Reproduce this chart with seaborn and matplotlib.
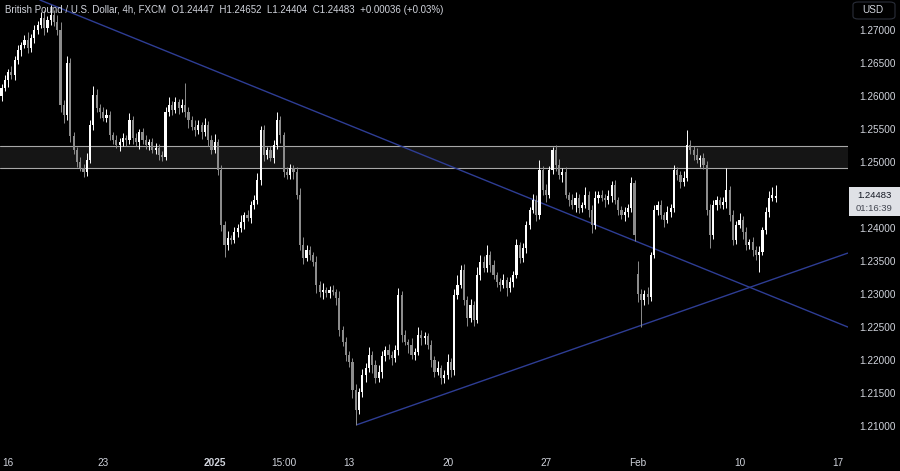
import numpy as np
import pandas as pd
import matplotlib

matplotlib.use('Agg')

import matplotlib.pyplot as plt
import seaborn as sns
from matplotlib.patches import FancyBboxPatch

sns.set_theme(style="dark")
plt.rcParams['font.family'] = ['Liberation Sans', 'DejaVu Sans']

# GBP/USD 4h candles, prices in units of 0.0001
opens = [
    12600, 12612, 12624, 12636, 12632, 12655, 12670, 12677, 12685, 12673,
    12688, 12700, 12708, 12718, 12703, 12715, 12723, 12712, 12700, 12586,
    12571, 12650, 12540, 12518, 12500, 12491, 12485, 12503, 12556, 12602,
    12582, 12576, 12567, 12571, 12541, 12533, 12526, 12530, 12536, 12533,
    12564, 12536, 12530, 12545, 12533, 12526, 12530, 12518, 12521, 12511,
    12508, 12576, 12586, 12579, 12591, 12582, 12586, 12576, 12564, 12553,
    12548, 12556, 12545, 12556, 12533, 12518, 12530, 12488, 12405, 12374,
    12385, 12382, 12394, 12400, 12409, 12420, 12415, 12435, 12442, 12473,
    12548, 12511, 12518, 12506, 12526, 12564, 12541, 12485, 12480, 12491,
    12485, 12450, 12374, 12355, 12367, 12359, 12349, 12314, 12303, 12306,
    12302, 12306, 12303, 12294, 12245, 12227, 12208, 12197, 12155, 12124,
    12152, 12177, 12188, 12208, 12192, 12173, 12182, 12206, 12215, 12208,
    12203, 12215, 12299, 12238, 12227, 12223, 12208, 12212, 12238, 12233,
    12236, 12223, 12200, 12182, 12188, 12173, 12177, 12197, 12185, 12299,
    12314, 12336, 12291, 12264, 12284, 12261, 12329, 12349, 12339, 12359,
    12344, 12329, 12318, 12314, 12321, 12309, 12318, 12329, 12374, 12355,
    12370, 12405, 12427, 12442, 12420, 12488, 12458, 12450, 12488, 12518,
    12495, 12480, 12485, 12450, 12442, 12435, 12446, 12430, 12435, 12450,
    12427, 12405, 12446, 12450, 12446, 12442, 12448, 12465, 12442, 12427,
    12420, 12424, 12430, 12468, 12330, 12300, 12291, 12300, 12295, 12359,
    12427, 12435, 12420, 12412, 12424, 12430, 12488, 12480, 12470, 12476,
    12526, 12518, 12511, 12503, 12506, 12495, 12427, 12389, 12435, 12442,
    12435, 12439, 12458, 12420, 12382, 12405, 12412, 12394, 12374, 12379,
    12367, 12359, 12364, 12397, 12424, 12446, 12445,
]
closes = [
    12612, 12624, 12636, 12632, 12655, 12670, 12677, 12685, 12673, 12688,
    12700, 12708, 12718, 12703, 12715, 12723, 12712, 12700, 12586, 12571,
    12650, 12540, 12518, 12500, 12491, 12485, 12503, 12556, 12602, 12582,
    12576, 12567, 12571, 12541, 12533, 12526, 12530, 12536, 12533, 12564,
    12536, 12530, 12545, 12533, 12526, 12530, 12518, 12521, 12511, 12508,
    12576, 12586, 12579, 12591, 12582, 12586, 12576, 12564, 12553, 12548,
    12556, 12545, 12556, 12533, 12518, 12530, 12488, 12405, 12374, 12385,
    12382, 12394, 12400, 12409, 12420, 12415, 12435, 12442, 12473, 12548,
    12511, 12518, 12506, 12526, 12564, 12541, 12485, 12480, 12491, 12485,
    12450, 12374, 12355, 12367, 12359, 12349, 12314, 12303, 12306, 12302,
    12306, 12303, 12294, 12245, 12227, 12208, 12197, 12155, 12124, 12152,
    12177, 12188, 12208, 12192, 12173, 12182, 12206, 12215, 12208, 12203,
    12215, 12299, 12238, 12227, 12223, 12208, 12212, 12238, 12233, 12236,
    12223, 12200, 12182, 12188, 12173, 12177, 12197, 12185, 12299, 12314,
    12336, 12291, 12264, 12284, 12261, 12329, 12349, 12339, 12359, 12344,
    12329, 12318, 12314, 12321, 12309, 12318, 12329, 12374, 12355, 12370,
    12405, 12427, 12442, 12420, 12488, 12458, 12450, 12488, 12518, 12495,
    12480, 12485, 12450, 12442, 12435, 12446, 12430, 12435, 12450, 12427,
    12405, 12446, 12450, 12446, 12442, 12448, 12465, 12442, 12427, 12420,
    12424, 12430, 12468, 12389, 12300, 12291, 12300, 12295, 12359, 12427,
    12435, 12420, 12412, 12424, 12430, 12488, 12480, 12470, 12476, 12526,
    12518, 12511, 12503, 12506, 12495, 12427, 12389, 12435, 12442, 12435,
    12439, 12458, 12420, 12382, 12405, 12412, 12394, 12374, 12379, 12367,
    12359, 12364, 12397, 12424, 12446, 12450, 12448,
]
# wick lengths above / below the body, same units
wick_up = [
    6, 8, 5, 10, 6, 8, 5, 8, 12, 6,
    8, 6, 10, 12, 6, 15, 8, 10, 12, 8,
    10, 8, 6, 5, 8, 6, 10, 8, 13, 8,
    6, 8, 10, 6, 5, 8, 6, 8, 5, 10,
    6, 8, 5, 6, 8, 5, 6, 8, 6, 5,
    8, 12, 6, 8, 5, 10, 33, 8, 6, 10,
    8, 5, 10, 6, 8, 12, 5, 8, 6, 10,
    5, 8, 6, 10, 5, 8, 6, 8, 10, 6,
    8, 5, 6, 8, 12, 6, 5, 8, 6, 5,
    8, 10, 12, 8, 6, 5, 8, 6, 10, 5,
    6, 8, 5, 10, 6, 8, 5, 6, 8, 6,
    10, 8, 12, 6, 8, 10, 8, 6, 10, 5,
    8, 10, 6, 8, 5, 10, 6, 12, 8, 6,
    5, 8, 6, 10, 5, 8, 12, 6, 8, 15,
    8, 10, 6, 8, 5, 12, 10, 8, 15, 6,
    8, 5, 6, 10, 5, 8, 6, 10, 5, 8,
    6, 5, 10, 8, 15, 6, 8, 6, 5, 8,
    10, 6, 8, 5, 10, 8, 6, 5, 12, 6,
    8, 10, 6, 8, 5, 10, 6, 8, 5, 6,
    8, 6, 10, 5, 20, 8, 6, 10, 5, 8,
    6, 8, 5, 10, 6, 8, 5, 6, 10, 22,
    8, 6, 10, 5, 8, 6, 10, 8, 6, 5,
    8, 33, 6, 8, 5, 10, 6, 8, 5, 8,
    6, 8, 5, 8, 10, 12, 17,
]
wick_dn = [
    8, 5, 10, 6, 8, 6, 10, 5, 8, 6,
    8, 6, 5, 10, 6, 8, 6, 8, 10, 12,
    8, 10, 6, 8, 5, 8, 6, 5, 8, 6,
    10, 5, 6, 8, 6, 5, 10, 6, 8, 5,
    8, 6, 10, 5, 6, 8, 5, 6, 8, 6,
    5, 6, 8, 5, 10, 6, 8, 12, 5, 8,
    6, 10, 5, 8, 6, 5, 8, 10, 18, 8,
    6, 5, 8, 6, 10, 5, 8, 6, 5, 8,
    10, 6, 5, 8, 6, 12, 8, 6, 5, 10,
    6, 8, 10, 5, 8, 6, 12, 8, 10, 6,
    8, 5, 10, 8, 6, 10, 8, 12, 22, 6,
    8, 10, 6, 12, 8, 6, 10, 8, 6, 10,
    6, 8, 10, 5, 12, 6, 8, 5, 10, 8,
    6, 10, 8, 5, 10, 8, 6, 10, 8, 6,
    5, 8, 12, 6, 10, 5, 8, 6, 5, 10,
    6, 8, 10, 5, 12, 6, 8, 5, 8, 6,
    8, 6, 5, 10, 6, 8, 10, 5, 6, 8,
    6, 10, 5, 8, 6, 10, 8, 6, 5, 10,
    12, 6, 8, 5, 10, 6, 8, 5, 8, 6,
    10, 8, 6, 8, 12, 41, 8, 10, 6, 5,
    8, 6, 10, 5, 8, 6, 8, 10, 6, 5,
    6, 8, 5, 10, 6, 8, 20, 6, 8, 5,
    6, 8, 10, 8, 6, 5, 10, 8, 6, 10,
    8, 26, 5, 6, 8, 5, 5,
]

date_ticks = [2, 31, 65, 86, 106, 136, 166, 194, 225, 255]
date_labels = ["16", "23", "2025", "15:00", "13", "20", "27", "Feb", "10", "17"]
# 1.24500 sits under the last-price tag, so it is not listed
price_ticks = [1.21, 1.215, 1.22, 1.225, 1.23, 1.235, 1.24, 1.25, 1.255, 1.26, 1.265, 1.27]

zone_lo, zone_hi = 1.2491, 1.2524
# trendlines: (candle index, price) anchors
trend_down = ([11.7, 258.0], [1.27455, 1.2250])
trend_up = ([108.4, 258.0], [1.21020, 1.23620])

last_price = "1.24483"
countdown = "01:16:39"
title = ("British Pound / U.S. Dollar, 4h, FXCM  O1.24447  H1.24652  "
         "L1.24404  C1.24483  +0.00036 (+0.03%)")

BG = "#000000"
UP = "#ffffff"
DOWN = "#8c8c8c"
TEXT = "#d1d4dc"
BLUE = "#2e3d94"

o = np.array(opens) / 10000
c = np.array(closes) / 10000
hi = np.maximum(o, c) + np.array(wick_up) / 10000
lo = np.minimum(o, c) - np.array(wick_dn) / 10000
idx = np.arange(len(c))
cols = np.where(c >= o, UP, DOWN)

fig = plt.figure(figsize=(9, 4.71), dpi=100, facecolor=BG)
ax = fig.add_axes([0, 23 / 471, 848 / 900, 448 / 471])
ax.set_facecolor(BG)
for s in ax.spines.values():
    s.set_visible(False)

# support / resistance zone
ax.axhspan(zone_lo, zone_hi, facecolor="#151515", edgecolor="none", zorder=0)
ax.axhline(zone_lo, color="#a8a8a8", linewidth=0.8, zorder=1)
ax.axhline(zone_hi, color="#a8a8a8", linewidth=0.8, zorder=1)

# candles
ax.vlines(idx, lo, hi, colors=cols, linewidth=0.7, zorder=3)
ax.bar(idx, np.maximum(np.abs(c - o), 0.00012), bottom=np.minimum(o, c),
       width=0.66, color=cols, linewidth=0, zorder=4)

# trendlines
tl = pd.DataFrame({
    "x": trend_down[0] + trend_up[0],
    "price": trend_down[1] + trend_up[1],
    "line": ["down", "down", "up", "up"],
})
sns.lineplot(data=tl, x="x", y="price", hue="line", palette=[BLUE, BLUE],
             estimator=None, linewidth=1.0, legend=False, ax=ax, zorder=2)

ax.set_xlim(-0.46, 258.07)
ax.set_ylim(1.2066667, 1.2745455)
ax.set_xlabel("")
ax.set_ylabel("")

ax.set_xticks(date_ticks)
ax.set_xticklabels(date_labels)
for lab in ax.get_xticklabels():
    if lab.get_text() == "2025":
        lab.set_fontweight("bold")
ax.tick_params(axis="x", length=0, pad=7, labelsize=7.2, labelcolor=TEXT)

ax.yaxis.tick_right()
ax.set_yticks(price_ticks)
ax.set_yticklabels([f"{p:.5f}" for p in price_ticks])
ax.tick_params(axis="y", length=0, pad=8, labelsize=7.2, labelcolor=TEXT)
ax.grid(False)

# current price label
fig.patches.append(FancyBboxPatch((849 / 900, 1 - 216 / 471), 51 / 900, 29 / 471,
                                  boxstyle="square,pad=0", transform=fig.transFigure,
                                  facecolor="#dfe1e6", edgecolor="none"))
fig.text(874 / 900, 1 - 195 / 471, last_price, ha="center", va="center",
         fontsize=6.8, color="#131722")
fig.text(874 / 900, 1 - 208.5 / 471, countdown, ha="center", va="center",
         fontsize=6.8, color="#434651")

# currency button
fig.patches.append(FancyBboxPatch((853 / 900, 1 - 19 / 471), 42 / 900, 17 / 471,
                                  boxstyle="round,pad=0,rounding_size=0.006",
                                  transform=fig.transFigure,
                                  facecolor=BG, edgecolor="#2a2e39", linewidth=0.8))
fig.text(862 / 900, 1 - 10 / 471, "USD", ha="left", va="center",
         fontsize=7.2, color=TEXT)

fig.text(5 / 900, 1 - 10 / 471, title, ha="left", va="center",
         fontsize=7.0, color=TEXT)

fig.savefig("out.png", dpi=100, facecolor=BG)
